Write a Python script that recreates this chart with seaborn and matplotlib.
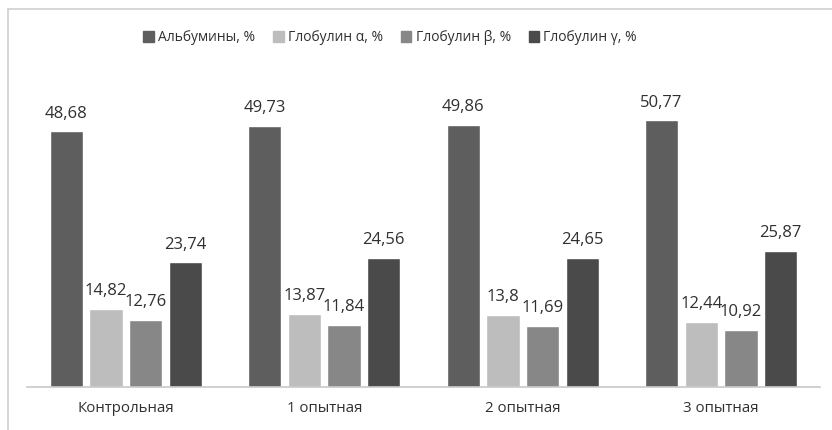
import pandas as pd
import matplotlib.pyplot as plt
import matplotlib.patches as mpatches
from matplotlib.lines import Line2D
import seaborn as sns

# Данные
groups = ['Контрольная', '1 опытная', '2 опытная', '3 опытная']
series = ['Альбумины, %', 'Глобулин α, %', 'Глобулин β, %', 'Глобулин γ, %']
albumin = [48.68, 49.73, 49.86, 50.77]
glob_alpha = [14.82, 13.87, 13.8, 12.44]
glob_beta = [12.76, 11.84, 11.69, 10.92]
glob_gamma = [23.74, 24.56, 24.65, 25.87]
colors = ['#5e5e5e', '#bdbdbd', '#878787', '#4a4a4a']

df = pd.DataFrame({
    'Группа': groups * 4,
    'Показатель': [s for s in series for _ in groups],
    'Значение': albumin + glob_alpha + glob_beta + glob_gamma,
})

sns.set_style('white')
plt.rcParams['font.family'] = ['Open Sans', 'DejaVu Sans']

fig = plt.figure(figsize=(8.32, 4.30), dpi=100)
ax = fig.add_axes([0.032, 0.1, 0.954, 0.733])

sns.barplot(data=df, x='Группа', y='Значение', hue='Показатель', hue_order=series,
            order=groups, palette=colors, width=0.8, gap=0.16, saturation=1,
            legend=False, ax=ax)

for cont in ax.containers:
    ax.bar_label(cont, labels=[format(b.get_height(), 'g').replace('.', ',') for b in cont],
                 padding=7, fontsize=12, color='#303030')

ax.set_ylim(0, 60)
ax.set_xlim(-0.5, 3.5)
ax.set_xlabel('')
ax.set_ylabel('')
ax.set_yticks([])
ax.tick_params(axis='x', length=0, pad=10, labelsize=10.8, labelcolor='#303030')
for s in ['top', 'right', 'left']:
    ax.spines[s].set_visible(False)
ax.spines['bottom'].set_color('#c8c8c8')
ax.spines['bottom'].set_linewidth(1.2)

# Легенда
handles = [mpatches.Patch(color=c, label=s) for c, s in zip(colors, series)]
fig.legend(handles=handles, loc='center', bbox_to_anchor=(0.469, 0.912), ncol=4,
           frameon=False, handlelength=0.75, handleheight=0.75, handletextpad=0.3,
           columnspacing=1.3, fontsize=10, labelcolor='#303030')

# Рамка диаграммы
fig.add_artist(Line2D([0.0096, 1.0], [0.979, 0.979], color='#cfcfcf', lw=1.2))
fig.add_artist(Line2D([0.0096, 0.0096], [0.0, 0.979], color='#cfcfcf', lw=1.2))

fig.savefig('out.png', dpi=100)
